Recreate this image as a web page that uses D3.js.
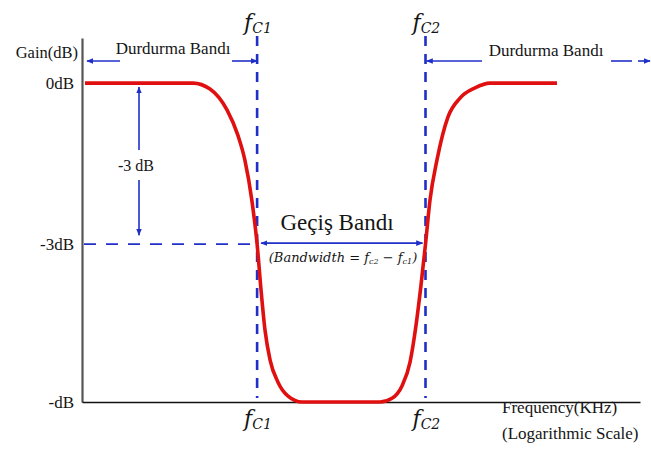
<!DOCTYPE html>
<html>
<head>
<meta charset="utf-8">
<script src="https://cdn.jsdelivr.net/npm/d3@7"></script>
<style>
  body { margin: 0; background: #fff; }
  svg { display: block; }
  svg text { font-family: "Liberation Serif", "Times New Roman", "DejaVu Serif", serif; fill: #151515; }
</style>
</head>
<body>
<script>
var width = 651,
    height = 457;

// frequency (log scale) and gain of the band-stop response
var freq = [10.5, 62.5, 82.7, 109.5, 131, 147, 165, 180, 192, 205, 223, 254, 300, 378,
            1368, 1668, 1967, 2245, 2480, 2693, 2900, 3123, 3506, 4205, 5125, 6566, 8408, 25400];
var gain = [0, 0, -0.11, -0.5, -0.97, -1.43, -2.18, -3, -3.85, -4.6, -5.16, -5.57, -5.83, -5.94,
            -5.94, -5.87, -5.64, -5.2, -4.51, -3.76, -3, -2.18, -1.43, -0.63, -0.28, -0.09, 0, 0];

var cutoffs = [180, 2900];
var cutoffNames = ["C1", "C2"];
var gainTicks = [0, -3, -5.94];
var gainTickLabels = ["0dB", "-3dB", "-dB"];

var blue = "#1f2fc8";
var serif = "'Liberation Serif', 'Times New Roman', 'DejaVu Serif', serif";

createChart()

function createChart(){

  var svg = d3.select("body").append("svg")
      .attr("width", width)
      .attr("height", height);

  var defs = svg.append("defs");
  defs.append("marker")
      .attr("id", "arrow")
      .attr("viewBox", "0 0 10 10")
      .attr("refX", 9).attr("refY", 5)
      .attr("markerWidth", 7).attr("markerHeight", 7)
      .attr("markerUnits", "userSpaceOnUse")
      .attr("orient", "auto-start-reverse")
    .append("path")
      .attr("d", "M0,1 L10,5 L0,9 Z")
      .attr("fill", blue);

  var x = d3.scaleLog().domain([10, 100000]).range([82, 640]);
  var y = d3.scaleLinear().domain([0.84, -5.94]).range([38, 402]);

  // y axis
  svg.append("g")
      .attr("transform", "translate(82,0)")
      .call(d3.axisLeft(y).tickValues(gainTicks).tickSize(0).tickPadding(8)
        .tickFormat(function(d, i){ return gainTickLabels[i]; }))
      .call(function(g){
        g.attr("font-family", null);
        g.select(".domain").attr("stroke", "#555").attr("stroke-width", 2.2);
        g.selectAll("text").style("font-family", serif)
          .style("font-size", "17px").attr("fill", "#151515");
      });

  // x axis
  svg.append("g")
      .attr("transform", "translate(0," + y(-5.94) + ")")
      .call(d3.axisBottom(x).tickValues([]).tickSize(0).tickSizeOuter(0))
      .call(function(g){
        g.select(".domain").attr("stroke", "#111").attr("stroke-width", 1.6);
      });

  var label = function(tx, ty, str, size, anchor){
    return svg.append("text")
      .attr("x", tx).attr("y", ty)
      .attr("text-anchor", anchor || "start")
      .style("font-family", serif)
      .style("font-size", size + "px")
      .text(str);
  }

  label(78, 58, "Gain(dB)", 16.5, "end");
  label(502, 413, "Frequency(KHz)", 17);
  label(502, 439, "(Logarithmic Scale)", 17);

  // -3dB dashed guide
  svg.append("line")
      .attr("x1", 84).attr("x2", x(cutoffs[0]))
      .attr("y1", y(-3)).attr("y2", y(-3))
      .attr("stroke", blue).attr("stroke-width", 1.8)
      .attr("stroke-dasharray", "12,10");

  // cutoff dashed lines
  svg.selectAll("line.cut")
      .data(cutoffs).enter().append("line")
      .attr("class", "cut")
      .attr("x1", function(d){ return x(d); })
      .attr("x2", function(d){ return x(d); })
      .attr("y1", 36).attr("y2", 398)
      .attr("stroke", blue).attr("stroke-width", 2.6)
      .attr("stroke-dasharray", "10,8");

  // response curve
  var line = d3.line()
      .x(function(d){ return x(d[0]); })
      .y(function(d){ return y(d[1]); })
      .curve(d3.curveMonotoneX);

  svg.append("path")
      .datum(d3.zip(freq, gain))
      .attr("d", line)
      .attr("fill", "none")
      .attr("stroke", "#e01010")
      .attr("stroke-width", 3.6);

  // helper for blue arrows
  var arrowLine = function(x1, y1, x2, y2, startHead, endHead){
    var l = svg.append("line")
      .attr("x1", x1).attr("y1", y1).attr("x2", x2).attr("y2", y2)
      .attr("stroke", blue).attr("stroke-width", 1.6);
    if (startHead) l.attr("marker-start", "url(#arrow)");
    if (endHead) l.attr("marker-end", "url(#arrow)");
  }

  var xc1 = x(cutoffs[0]), xc2 = x(cutoffs[1]);
  var arrowY = 61;

  // stop band (left)
  arrowLine(87, arrowY, 120, arrowY, true, false);
  arrowLine(232, arrowY, xc1, arrowY, false, true);
  label(173, 54, "Durdurma Bandı", 17, "middle");

  // stop band (right)
  arrowLine(xc2 + 1, arrowY, 482, arrowY, true, false);
  arrowLine(611, arrowY, 632, arrowY, false, false);
  arrowLine(638, arrowY, 650, arrowY, false, true);
  label(546, 56, "Durdurma Bandı", 17, "middle");

  // -3dB drop arrow
  arrowLine(139, 150, 139, y(0) + 4, false, true);
  arrowLine(139, 180, 139, y(-3) - 9, false, true);
  label(136, 171, "-3 dB", 16, "middle");

  // pass band
  arrowLine(xc1 + 4, y(-3) - 1, xc2 - 3, y(-3) - 1, true, true);
  label(337, 230, "Geçiş Bandı", 23, "middle");

  var bw = svg.append("text").attr("x", 343).attr("y", 262)
      .attr("text-anchor", "middle")
      .style("font-size", "13px").style("font-style", "italic")
      .style("font-family", "'DejaVu Serif', serif");
  bw.append("tspan").text("(Bandwidth = f");
  bw.append("tspan").attr("dy", 2).style("font-size", "8px").text("c2");
  bw.append("tspan").attr("dy", -2).text(" − f");
  bw.append("tspan").attr("dy", 2).style("font-size", "8px").text("c1");
  bw.append("tspan").attr("dy", -2).text(")");

  // cutoff labels, top and bottom
  [30, 426].forEach(function(yy){
    var lab = svg.selectAll(null)
        .data(cutoffs).enter().append("text")
        .attr("x", function(d){ return x(d) - 13; })
        .attr("y", yy)
        .style("font-style", "italic")
        .style("font-family", "'DejaVu Serif', serif");
    lab.append("tspan").style("font-size", "22px").text("f");
    lab.append("tspan").attr("dy", 3).style("font-size", "14px")
        .text(function(d, i){ return cutoffNames[i]; });
  });
}
</script>
</body>
</html>
